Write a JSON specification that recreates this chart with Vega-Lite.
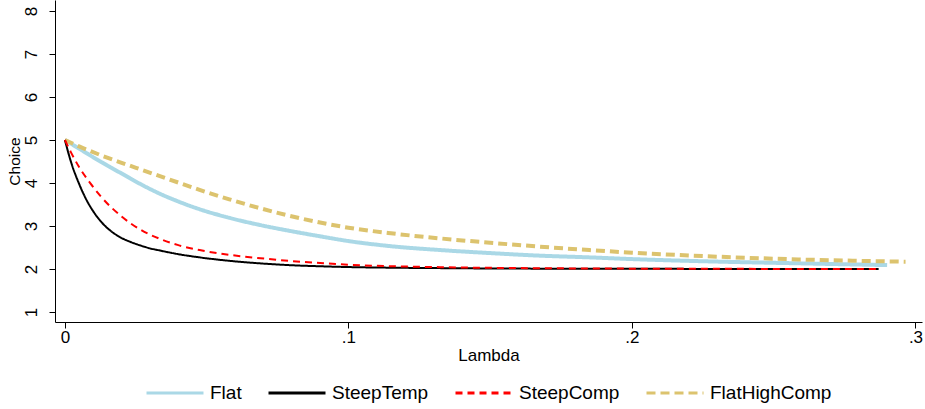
{
  "$schema": "https://vega.github.io/schema/vega-lite/v6.json",
  "width": 867,
  "height": 322,
  "autosize": {"type": "none"},
  "padding": {"left": 55, "top": 0, "right": 3, "bottom": 87},
  "background": "white",
  "config": {
    "view": {"stroke": null},
    "font": "Liberation Sans",
    "axis": {"grid": false, "domainColor": "black", "tickColor": "black", "labelColor": "black", "titleColor": "black", "labelFont": "Liberation Sans", "titleFont": "Liberation Sans", "titleFontWeight": "normal", "labelFontSize": 17, "titleFontSize": 17, "tickSize": 6, "domainWidth": 1, "tickWidth": 1}
  },
  "data": {
    "values": [
      {"series": "Flat", "lambda": 0, "choice": 5},
      {"series": "Flat", "lambda": 0.002, "choice": 4.92},
      {"series": "Flat", "lambda": 0.005, "choice": 4.8},
      {"series": "Flat", "lambda": 0.0125, "choice": 4.5},
      {"series": "Flat", "lambda": 0.02, "choice": 4.22},
      {"series": "Flat", "lambda": 0.0265, "choice": 3.98},
      {"series": "Flat", "lambda": 0.0335, "choice": 3.75},
      {"series": "Flat", "lambda": 0.04, "choice": 3.57},
      {"series": "Flat", "lambda": 0.0475, "choice": 3.39},
      {"series": "Flat", "lambda": 0.058, "choice": 3.19},
      {"series": "Flat", "lambda": 0.069, "choice": 3.02},
      {"series": "Flat", "lambda": 0.079, "choice": 2.89},
      {"series": "Flat", "lambda": 0.09, "choice": 2.76},
      {"series": "Flat", "lambda": 0.1, "choice": 2.65},
      {"series": "Flat", "lambda": 0.115, "choice": 2.53},
      {"series": "Flat", "lambda": 0.1325, "choice": 2.44},
      {"series": "Flat", "lambda": 0.15, "choice": 2.37},
      {"series": "Flat", "lambda": 0.1675, "choice": 2.31},
      {"series": "Flat", "lambda": 0.185, "choice": 2.27},
      {"series": "Flat", "lambda": 0.2, "choice": 2.23},
      {"series": "Flat", "lambda": 0.225, "choice": 2.18},
      {"series": "Flat", "lambda": 0.26, "choice": 2.13},
      {"series": "Flat", "lambda": 0.29, "choice": 2.09},

      {"series": "SteepTemp", "lambda": 0, "choice": 5},
      {"series": "SteepTemp", "lambda": 0.002, "choice": 4.52},
      {"series": "SteepTemp", "lambda": 0.005, "choice": 3.98},
      {"series": "SteepTemp", "lambda": 0.0075, "choice": 3.62},
      {"series": "SteepTemp", "lambda": 0.01, "choice": 3.34},
      {"series": "SteepTemp", "lambda": 0.0125, "choice": 3.12},
      {"series": "SteepTemp", "lambda": 0.015, "choice": 2.95},
      {"series": "SteepTemp", "lambda": 0.0175, "choice": 2.82},
      {"series": "SteepTemp", "lambda": 0.02, "choice": 2.72},
      {"series": "SteepTemp", "lambda": 0.0235, "choice": 2.62},
      {"series": "SteepTemp", "lambda": 0.0265, "choice": 2.55},
      {"series": "SteepTemp", "lambda": 0.03, "choice": 2.48},
      {"series": "SteepTemp", "lambda": 0.0335, "choice": 2.43},
      {"series": "SteepTemp", "lambda": 0.04, "choice": 2.345},
      {"series": "SteepTemp", "lambda": 0.0475, "choice": 2.27},
      {"series": "SteepTemp", "lambda": 0.058, "choice": 2.19},
      {"series": "SteepTemp", "lambda": 0.069, "choice": 2.13},
      {"series": "SteepTemp", "lambda": 0.079, "choice": 2.09},
      {"series": "SteepTemp", "lambda": 0.09, "choice": 2.063},
      {"series": "SteepTemp", "lambda": 0.1, "choice": 2.045},
      {"series": "SteepTemp", "lambda": 0.115, "choice": 2.03},
      {"series": "SteepTemp", "lambda": 0.1325, "choice": 2.02},
      {"series": "SteepTemp", "lambda": 0.15, "choice": 2.012},
      {"series": "SteepTemp", "lambda": 0.2, "choice": 2.004},
      {"series": "SteepTemp", "lambda": 0.287, "choice": 2.0},

      {"series": "SteepComp", "lambda": 0, "choice": 5},
      {"series": "SteepComp", "lambda": 0.002, "choice": 4.73},
      {"series": "SteepComp", "lambda": 0.005, "choice": 4.37},
      {"series": "SteepComp", "lambda": 0.009, "choice": 3.99},
      {"series": "SteepComp", "lambda": 0.0125, "choice": 3.7},
      {"series": "SteepComp", "lambda": 0.02, "choice": 3.22},
      {"series": "SteepComp", "lambda": 0.0265, "choice": 2.92},
      {"series": "SteepComp", "lambda": 0.0335, "choice": 2.7},
      {"series": "SteepComp", "lambda": 0.04, "choice": 2.555},
      {"series": "SteepComp", "lambda": 0.0475, "choice": 2.44},
      {"series": "SteepComp", "lambda": 0.058, "choice": 2.33},
      {"series": "SteepComp", "lambda": 0.069, "choice": 2.25},
      {"series": "SteepComp", "lambda": 0.079, "choice": 2.19},
      {"series": "SteepComp", "lambda": 0.09, "choice": 2.14},
      {"series": "SteepComp", "lambda": 0.1, "choice": 2.1},
      {"series": "SteepComp", "lambda": 0.115, "choice": 2.065},
      {"series": "SteepComp", "lambda": 0.1325, "choice": 2.042},
      {"series": "SteepComp", "lambda": 0.15, "choice": 2.027},
      {"series": "SteepComp", "lambda": 0.175, "choice": 2.015},
      {"series": "SteepComp", "lambda": 0.2, "choice": 2.008},
      {"series": "SteepComp", "lambda": 0.25, "choice": 2.002},
      {"series": "SteepComp", "lambda": 0.287, "choice": 2.0},

      {"series": "FlatHighComp", "lambda": 0, "choice": 5},
      {"series": "FlatHighComp", "lambda": 0.005, "choice": 4.85},
      {"series": "FlatHighComp", "lambda": 0.0125, "choice": 4.65},
      {"series": "FlatHighComp", "lambda": 0.02, "choice": 4.47},
      {"series": "FlatHighComp", "lambda": 0.0265, "choice": 4.32},
      {"series": "FlatHighComp", "lambda": 0.0335, "choice": 4.16},
      {"series": "FlatHighComp", "lambda": 0.04, "choice": 4.01},
      {"series": "FlatHighComp", "lambda": 0.0475, "choice": 3.84},
      {"series": "FlatHighComp", "lambda": 0.058, "choice": 3.62},
      {"series": "FlatHighComp", "lambda": 0.069, "choice": 3.41},
      {"series": "FlatHighComp", "lambda": 0.079, "choice": 3.24},
      {"series": "FlatHighComp", "lambda": 0.09, "choice": 3.08},
      {"series": "FlatHighComp", "lambda": 0.1, "choice": 2.96},
      {"series": "FlatHighComp", "lambda": 0.115, "choice": 2.83},
      {"series": "FlatHighComp", "lambda": 0.1325, "choice": 2.71},
      {"series": "FlatHighComp", "lambda": 0.15, "choice": 2.61},
      {"series": "FlatHighComp", "lambda": 0.1675, "choice": 2.52},
      {"series": "FlatHighComp", "lambda": 0.185, "choice": 2.44},
      {"series": "FlatHighComp", "lambda": 0.2, "choice": 2.38},
      {"series": "FlatHighComp", "lambda": 0.225, "choice": 2.3},
      {"series": "FlatHighComp", "lambda": 0.26, "choice": 2.22},
      {"series": "FlatHighComp", "lambda": 0.2965, "choice": 2.17}
    ]
  },
  "encoding": {
    "x": {
      "field": "lambda", "type": "quantitative", "title": "Lambda",
      "scale": {"domain": [-0.0035, 0.3023], "nice": false, "zero": false},
      "axis": {"values": [0, 0.1, 0.2, 0.3], "labelExpr": "datum.value == 0 ? '0' : replace(format(datum.value, '.1f'), '0.', '.')", "labelPadding": 1, "titlePadding": 2, "labelFlush": false}
    },
    "y": {
      "field": "choice", "type": "quantitative", "title": "Choice",
      "scale": {"domain": [0.767, 8.256], "nice": false, "zero": false},
      "axis": {"values": [1, 2, 3, 4, 5, 6, 7, 8], "labelAngle": -90, "labelAlign": "center", "labelBaseline": "bottom", "labelPadding": 9, "titlePadding": 0, "titleFontSize": 15.5}
    },
    "color": {
      "field": "series", "type": "nominal",
      "scale": {"domain": ["Flat", "SteepTemp", "SteepComp", "FlatHighComp"], "range": ["#aad8e6", "#000000", "#ff0000", "#dcc36e"]},
      "legend": {
        "orient": "none", "legendX": 90, "legendY": 363, "direction": "horizontal", "title": null,
        "symbolType": "stroke", "symbolSize": 3249, "symbolStrokeWidth": 3,
        "labelFontSize": 19, "labelFont": "Liberation Sans", "labelColor": "black",
        "labelOffset": 5, "columnPadding": 20
      }
    },
    "strokeDash": {
      "field": "series", "type": "nominal",
      "scale": {"domain": ["Flat", "SteepTemp", "SteepComp", "FlatHighComp"], "range": [[1, 0], [1, 0], [7, 5], [9, 5]]}
    }
  },
  "layer": [
    {
      "transform": [{"filter": "datum.series == 'Flat' || datum.series == 'FlatHighComp'"}],
      "mark": {"type": "line", "interpolate": "monotone", "strokeWidth": 4}
    },
    {
      "transform": [{"filter": "datum.series == 'SteepTemp' || datum.series == 'SteepComp'"}],
      "mark": {"type": "line", "interpolate": "monotone", "strokeWidth": 2}
    }
  ]
}
